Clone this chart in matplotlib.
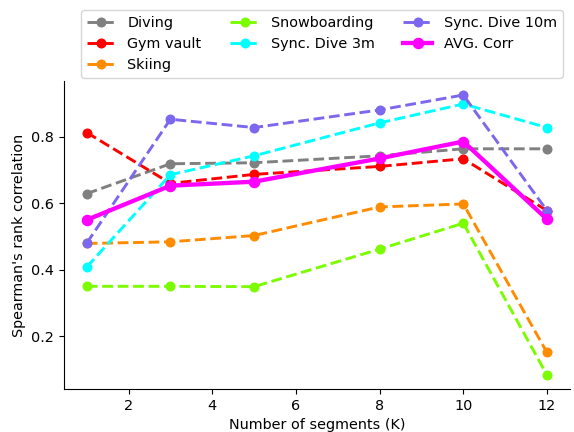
import numpy as np
import matplotlib
matplotlib.use('Agg')
import matplotlib.pyplot as plt

plt.rcParams['font.size'] = 10.4

K = [1, 3, 5, 8, 10, 12]

diving = [0.629, 0.719, 0.722, 0.743, 0.764, 0.764]
gym_vault = [0.813, 0.660, 0.687, 0.711, 0.734, 0.578]
skiing = [0.479, 0.484, 0.503, 0.589, 0.598, 0.151]
snowboarding = [0.350, 0.350, 0.349, 0.462, 0.540, 0.083]
sync_3m = [0.408, 0.686, 0.743, 0.842, 0.899, 0.828]
sync_10m = [0.480, 0.853, 0.828, 0.881, 0.926, 0.578]
avg_corr = [0.550, 0.653, 0.665, 0.735, 0.786, 0.552]

series = [
  ('Diving', diving, 'gray'),
  ('Gym vault', gym_vault, 'red'),
  ('Skiing', skiing, 'darkorange'),
  ('Snowboarding', snowboarding, 'lawngreen'),
  ('Sync. Dive 3m', sync_3m, 'cyan'),
  ('Sync. Dive 10m', sync_10m, 'mediumslateblue'),
]

fig = plt.figure(figsize=(5.74, 4.32), dpi=100)
ax = fig.add_axes([0.111, 0.0995, 0.882, 0.713])

for name, vals, c in series:
  ax.plot(K, vals, '--', color=c, marker='o', linewidth=2.1, markersize=6.2, label=name)
ax.plot(K, avg_corr, '-', color='magenta', marker='o', linewidth=3.1, markersize=7.3, label='AVG. Corr')

ax.set_xlabel('Number of segments (K)')
ax.set_ylabel("Spearman's rank correlation")
ax.set_yticks([0.2, 0.4, 0.6, 0.8])
ax.spines['top'].set_visible(False)
ax.spines['right'].set_visible(False)

ax.legend(ncol=3, loc='lower center', bbox_to_anchor=(0.51, 1.0), borderaxespad=0.2)

fig.savefig('out.png', dpi=100)
